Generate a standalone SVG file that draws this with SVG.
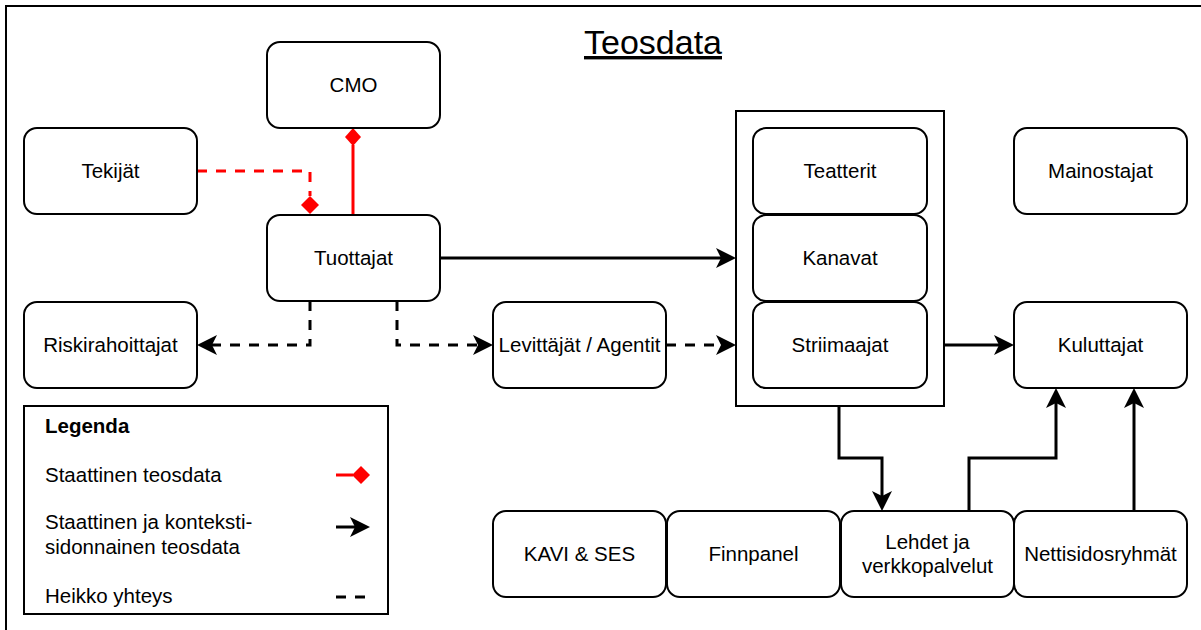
<svg xmlns="http://www.w3.org/2000/svg" width="1201" height="630" viewBox="0 0 1201 630">
  <style>
    text { font-family: "Liberation Sans", Arial, sans-serif; font-size: 20.5px; fill: #000; }
    .node rect { fill: #fff; stroke: #000; stroke-width: 2; }
    .lbl { text-anchor: middle; }
    .solid { fill: none; stroke: #000; stroke-width: 3; }
    .dash { fill: none; stroke: #000; stroke-width: 3; stroke-dasharray: 10 9; }
    .red { fill: none; stroke: #ff0000; stroke-width: 3; }
    .reddash { fill: none; stroke: #ff0000; stroke-width: 3; stroke-dasharray: 10 9; }
    .diamond { fill: #ff0000; stroke: none; }
  </style>
  <defs>
    <marker id="arrow" markerUnits="userSpaceOnUse" markerWidth="24" markerHeight="24" viewBox="-22 -12 24 24" refX="-10" refY="0" orient="auto">
      <path d="M0,0 L-20,-10 L-15,0 L-20,10 Z" fill="#000" stroke="none"/>
    </marker>
  </defs>

  <rect x="0" y="0" width="1201" height="630" fill="#fff"/>
  <!-- outer frame -->
  <rect x="6" y="6" width="1215" height="640" fill="none" stroke="#000" stroke-width="2"/>

  <text x="653" y="54" text-anchor="middle" style="font-size:34px" text-decoration="underline">Teosdata</text>

  <!-- distribution container -->
  <g id="container">
    <rect x="736" y="111" width="208" height="295" fill="#fff" stroke="#000" stroke-width="2"/>
  </g>

  <g id="connectors">
    <!-- Tekijät to Tuottajat -->
    <path class="reddash" d="M197,171 H310 V196"/>
    <polygon class="diamond" points="310,196 319,205 310,214 301,205"/>
    <!-- Tuottajat to CMO -->
    <path class="red" d="M353,215 V145"/>
    <polygon class="diamond" points="353,128 361,137 353,146 345,137"/>
    <!-- Tuottajat to distribution -->
    <path class="solid" d="M440,258 H726" marker-end="url(#arrow)"/>
    <path class="dash" d="M310,301 V345 H207" marker-end="url(#arrow)"/>
    <path class="dash" d="M397,301 V345 H483" marker-end="url(#arrow)"/>
    <path class="dash" d="M666,345 H726" marker-end="url(#arrow)"/>
    <path class="solid" d="M944,345 H1004" marker-end="url(#arrow)"/>
    <path class="solid" d="M839,406 V458 H882 V501" marker-end="url(#arrow)"/>
    <path class="solid" d="M969,511 V458 H1056 V398" marker-end="url(#arrow)"/>
    <path class="solid" d="M1134,511 V398" marker-end="url(#arrow)"/>
  </g>

  <g id="cmo" class="node"><rect x="267" y="42" width="173" height="86" rx="13"/><text class="lbl" x="353.5" y="92">CMO</text></g>
  <g id="tekijat" class="node"><rect x="24" y="128" width="173" height="86" rx="13"/><text class="lbl" x="110.5" y="178">Tekijät</text></g>
  <g id="tuottajat" class="node"><rect x="267" y="215" width="173" height="86" rx="13"/><text class="lbl" x="353.5" y="265">Tuottajat</text></g>
  <g id="riskirahoittajat" class="node"><rect x="24" y="302" width="173" height="86" rx="13"/><text class="lbl" x="110.5" y="352">Riskirahoittajat</text></g>
  <g id="levittajat" class="node"><rect x="493" y="302" width="173" height="86" rx="13"/><text class="lbl" x="579.5" y="352">Levittäjät / Agentit</text></g>
  <g id="teatterit" class="node"><rect x="753" y="128" width="174" height="86" rx="13"/><text class="lbl" x="840" y="178">Teatterit</text></g>
  <g id="kanavat" class="node"><rect x="753" y="215" width="174" height="86" rx="13"/><text class="lbl" x="840" y="265">Kanavat</text></g>
  <g id="striimaajat" class="node"><rect x="753" y="302" width="174" height="86" rx="13"/><text class="lbl" x="840" y="352">Striimaajat</text></g>
  <g id="mainostajat" class="node"><rect x="1014" y="128" width="173" height="86" rx="13"/><text class="lbl" x="1100.5" y="178">Mainostajat</text></g>
  <g id="kuluttajat" class="node"><rect x="1014" y="302" width="173" height="86" rx="13"/><text class="lbl" x="1100.5" y="352">Kuluttajat</text></g>
  <g id="kavi" class="node"><rect x="493" y="511" width="173" height="86" rx="13"/><text class="lbl" x="579.5" y="561">KAVI &amp; SES</text></g>
  <g id="finnpanel" class="node"><rect x="667" y="511" width="173" height="86" rx="13"/><text class="lbl" x="753.5" y="561">Finnpanel</text></g>
  <g id="lehdet" class="node"><rect x="841" y="511" width="173" height="86" rx="13"/><text class="lbl" x="927.5" y="549">Lehdet ja</text><text class="lbl" x="927.5" y="573">verkkopalvelut</text></g>
  <g id="nettisidosryhmat" class="node"><rect x="1014" y="511" width="173" height="86" rx="13"/><text class="lbl" x="1100.5" y="561">Nettisidosryhmät</text></g>

  <!-- legend -->
  <g id="legend">
    <rect x="24" y="406" width="364" height="208" fill="#fff" stroke="#000" stroke-width="2"/>
    <text x="45" y="433" font-weight="bold">Legenda</text>
    <text x="45" y="482">Staattinen teosdata</text>
    <path class="red" d="M336,475 H353"/>
    <polygon class="diamond" points="352,475 361,466 370,475 361,484"/>
    <text x="45" y="529">Staattinen ja konteksti-</text>
    <text x="45" y="554">sidonnainen teosdata</text>
    <path class="solid" d="M336,527 H360" marker-end="url(#arrow)"/>
    <text x="45" y="603">Heikko yhteys</text>
    <path class="dash" d="M336,597 H366"/>
  </g>
</svg>
